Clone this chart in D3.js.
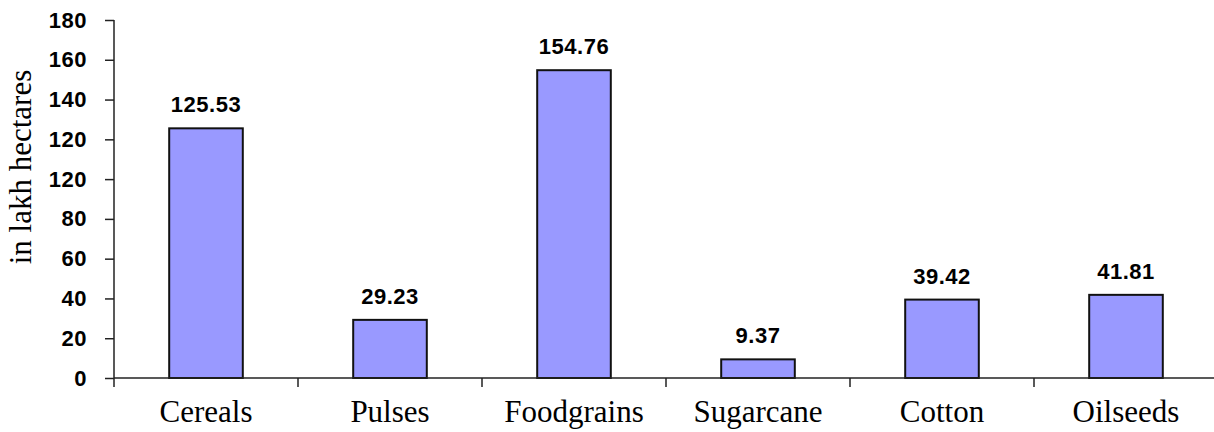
<!DOCTYPE html>
<html>
<head>
<meta charset="utf-8">
<script src="https://cdn.jsdelivr.net/npm/d3@7"></script>
<style>
  html, body { margin: 0; padding: 0; background: #fff; }
  svg { display: block; }
</style>
</head>
<body>
<svg id="chart" width="1214" height="432"></svg>
<script>
const categories = ["Cereals", "Pulses", "Foodgrains", "Sugarcane", "Cotton", "Oilseeds"];
const values = [125.53, 29.23, 154.76, 9.37, 39.42, 41.81];
const valueLabels = ["125.53", "29.23", "154.76", "9.37", "39.42", "41.81"];
const tickValues = [0, 20, 40, 60, 80, 100, 120, 140, 160, 180];
const tickLabels = ["0", "20", "40", "60", "80", "120", "120", "140", "160", "180"];
const yTitle = "in lakh hectares";

(function () {
const svg = d3.select("#chart");
const mLeft = 114, mRight = 1218, mTop = 20, mBottom = 378;

const x = d3.scaleBand().domain(categories).range([mLeft, mRight])
  .paddingInner(0.6).paddingOuter(0.3);
const y = d3.scaleLinear().domain([0, 180]).range([mBottom, mTop]);

// Bars
svg.append("g").selectAll("rect").data(values).join("rect")
  .attr("x", (d, i) => x(categories[i]))
  .attr("y", d => y(d))
  .attr("width", x.bandwidth())
  .attr("height", d => y(0) - y(d))
  .attr("fill", "#9999ff")
  .attr("stroke", "#111")
  .attr("stroke-width", 2);

// Value labels
svg.append("g").selectAll("text").data(values).join("text")
  .attr("x", (d, i) => x(categories[i]) + x.bandwidth() / 2)
  .attr("y", d => y(d) - 16)
  .attr("text-anchor", "middle")
  .attr("font-family", "'Liberation Sans', Arial, sans-serif")
  .attr("font-weight", "bold")
  .attr("font-size", 22)
  .attr("letter-spacing", 0.5)
  .attr("fill", "#000")
  .text((d, i) => valueLabels[i]);

// Y axis
const yAxis = d3.axisLeft(y).tickValues(tickValues)
  .tickFormat((d, i) => tickLabels[i]).tickSize(9).tickPadding(18);
const gy = svg.append("g").attr("transform", `translate(${mLeft},0)`).call(yAxis);
gy.select(".domain").remove();
gy.selectAll(".tick line").attr("stroke", "#222").attr("stroke-width", 1.5);
gy.selectAll(".tick text")
  .attr("font-family", "'Liberation Sans', Arial, sans-serif")
  .attr("font-weight", "bold")
  .attr("font-size", 22)
  .attr("letter-spacing", 0.5)
  .attr("fill", "#000");
gy.append("line").attr("x1", 0).attr("x2", 0)
  .attr("y1", y(180)).attr("y2", y(0) + 9)
  .attr("stroke", "#222").attr("stroke-width", 1.5);

// X axis
const gx = svg.append("g");
gx.append("line").attr("x1", mLeft).attr("x2", mRight)
  .attr("y1", y(0)).attr("y2", y(0))
  .attr("stroke", "#222").attr("stroke-width", 1.5);
const step = x.step();
gx.selectAll("line.tk").data(categories).join("line").attr("class", "tk")
  .attr("x1", d => x(d) + x.bandwidth() / 2 + step / 2)
  .attr("x2", d => x(d) + x.bandwidth() / 2 + step / 2)
  .attr("y1", y(0)).attr("y2", y(0) + 9)
  .attr("stroke", "#222").attr("stroke-width", 1.5);
gx.selectAll("text").data(categories).join("text")
  .attr("x", d => x(d) + x.bandwidth() / 2)
  .attr("y", 422)
  .attr("text-anchor", "middle")
  .attr("font-family", "'Liberation Serif', 'Times New Roman', serif")
  .attr("font-size", 31)
  .attr("fill", "#000")
  .text(d => d);

// Y title
svg.append("text")
  .attr("transform", "translate(31,167) rotate(-90)")
  .attr("text-anchor", "middle")
  .attr("font-family", "'Liberation Serif', 'Times New Roman', serif")
  .attr("font-size", 31)
  .attr("fill", "#000")
  .text(yTitle);
})();
</script>
</body>
</html>
